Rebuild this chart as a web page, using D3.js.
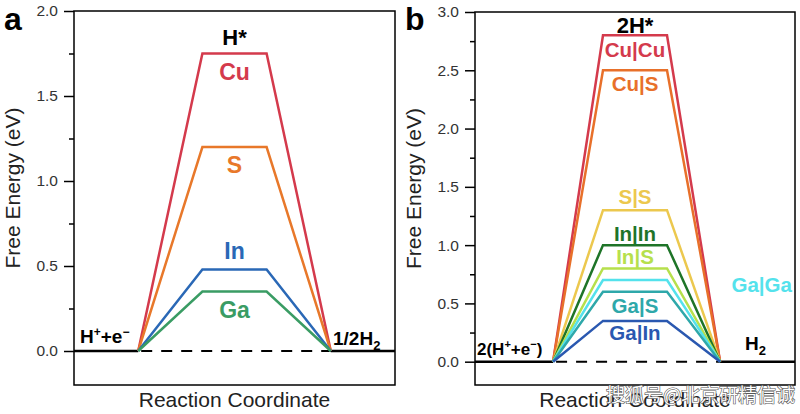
<!DOCTYPE html>
<html><head><meta charset="utf-8">
<script src="https://cdn.jsdelivr.net/npm/d3@7"></script>
<style>body{margin:0;background:#fff}svg{display:block}</style>
</head><body>
<svg id="c" width="800" height="414"></svg>
<script>
// ---------- data ----------
const aStages = [1, 2, 3, 4];
const aSeries = ["Cu", "S", "In", "Ga"];
const aValues = [1.75, 1.2, 0.48, 0.35];
const aTicks = [0, 0.5, 1.0, 1.5, 2.0];
const aMinor = [-0.25, 0.25, 0.75, 1.25, 1.75];

const bStages = [1.22, 2, 3, 3.83];
const bSeries = ["Cu|Cu", "Cu|S", "S|S", "In|In", "In|S", "Ga|Ga", "Ga|S", "Ga|In"];
const bValues = [2.8, 2.5, 1.3, 1.0, 0.8, 0.7, 0.6, 0.35];
const bTicks = [0, 0.5, 1.0, 1.5, 2.0, 2.5, 3.0];
const bMinor = [0.25, 0.75, 1.25, 1.75, 2.25, 2.75];

// ---------- styles ----------
const FONT = "'Liberation Sans', Arial, Helvetica, sans-serif";
const aColors = {"Cu":"#d43a4c","S":"#e8782a","In":"#2a68b6","Ga":"#3a9c64"};
const aLabelDy = {"Cu":26,"S":26,"In":-10,"Ga":26};
const bColors = {"Cu|Cu":"#d43a4c","Cu|S":"#e8702a","S|S":"#ecc84e","In|In":"#1e7428",
  "In|S":"#b6e04c","Ga|Ga":"#54e2ec","Ga|S":"#2ea8aa","Ga|In":"#2a58b0"};
const bLabelDy = {"Cu|Cu":22,"Cu|S":21,"S|S":-6,"In|In":-4,"In|S":-4,"Ga|S":21,"Ga|In":19};

const svg = d3.select("#c");

function panel(o){
  const x = d3.scaleLinear().domain([0,5]).range([o.left,o.right]);
  const y = d3.scaleLinear().domain(o.ydom).range([o.bottom,o.top]);
  const g = svg.append("g");

  g.append("g").attr("transform",`translate(${o.left},0)`)
    .call(d3.axisLeft(y).tickValues(o.minor.filter(v=>v>o.ydom[0]&&v<o.ydom[1])).tickSize(5).tickFormat(""))
    .call(s=>{s.select(".domain").remove(); s.selectAll("line").attr("stroke","#000").attr("stroke-width",1.5);});
  g.append("g").attr("transform",`translate(${o.left},0)`)
    .call(d3.axisLeft(y).tickValues(o.ticks).tickSize(10).tickPadding(6).tickFormat(d3.format(".1f")))
    .call(s=>{s.select(".domain").remove();
      s.selectAll("line").attr("stroke","#000").attr("stroke-width",1.5);
      s.selectAll("text").attr("font-family",FONT).attr("font-size",15.5).attr("fill","#333");});

  g.append("rect").attr("x",o.left).attr("y",o.top).attr("width",o.right-o.left)
    .attr("height",o.bottom-o.top).attr("fill","none").attr("stroke","#000").attr("stroke-width",1.5);

  const s0 = o.stages[0], s3 = o.stages[3];
  g.append("line").attr("x1",x(0)).attr("x2",x(s0)).attr("y1",y(0)).attr("y2",y(0))
    .attr("stroke","#000").attr("stroke-width",2.5);
  g.append("line").attr("x1",x(s3)).attr("x2",x(5)).attr("y1",y(0)).attr("y2",y(0))
    .attr("stroke","#000").attr("stroke-width",2.5);
  g.append("line").attr("x1",x(s0)).attr("x2",x(s3)).attr("y1",y(0)).attr("y2",y(0))
    .attr("stroke","#000").attr("stroke-width",2).attr("stroke-dasharray","11,9").attr("stroke-dashoffset",-3);

  const line = d3.line().x(d=>x(d[0])).y(d=>y(d[1]));
  o.series.forEach((name,i)=>{
    const v = o.values[i];
    const pts = [[o.stages[0],0],[o.stages[1],v],[o.stages[2],v],[o.stages[3],0]];
    g.append("path").attr("d",line(pts)).attr("fill","none")
      .attr("stroke",o.colors[name]).attr("stroke-width",2.5).attr("stroke-linejoin","miter");
  });
  o.series.forEach((name,i)=>{
    const v = o.values[i];
    let lx = x((o.stages[1]+o.stages[2])/2), ly;
    if(o.labelDy[name]!==undefined){ ly = y(v)+o.labelDy[name]; }
    else { lx = x(4.48); ly = y(0.6); }
    g.append("text").attr("x",lx).attr("y",ly).attr("text-anchor","middle")
      .attr("font-family",FONT).attr("font-weight","bold").attr("font-size",o.labelSize)
      .attr("fill",o.colors[name]).text(name);
  });

  g.append("text").attr("transform",`translate(${o.left-54},${(o.top+o.bottom)/2-10}) rotate(-90)`)
    .attr("text-anchor","middle").attr("font-family",FONT).attr("font-size",21).attr("fill","#222")
    .text("Free Energy (eV)");
  g.append("text").attr("x",(o.left+o.right)/2).attr("y",407)
    .attr("text-anchor","middle").attr("font-family",FONT).attr("font-size",21).attr("fill","#222")
    .text("Reaction Coordinate");
  g.append("text").attr("x",o.left-70).attr("y",30).attr("font-family",FONT).attr("font-weight","bold")
    .attr("font-size",32).attr("fill","#000").text(o.letter);
  return {g,x,y};
}

const A = panel({left:74,right:395,top:11,bottom:385,ydom:[-0.2,2.0],ticks:aTicks,minor:aMinor,
  stages:aStages,series:aSeries,values:aValues,colors:aColors,labelDy:aLabelDy,labelSize:23,letter:"a"});
const B = panel({left:475,right:795,top:12,bottom:385,ydom:[-0.2,3.0],ticks:bTicks,minor:bMinor,
  stages:bStages,series:bSeries,values:bValues,colors:bColors,labelDy:bLabelDy,labelSize:20.5,letter:"b"});

function bold(g,x,y,size,anchor){
  return g.append("text").attr("x",x).attr("y",y).attr("text-anchor",anchor||"start")
    .attr("font-family",FONT).attr("font-weight","bold").attr("font-size",size).attr("fill","#000");
}
bold(A.g, A.x(2.5), 45, 22, "middle").text("H*");
{ const t = bold(A.g, 80, 343, 19);
  t.append("tspan").text("H");
  t.append("tspan").attr("dy",-7).attr("font-size",12).text("+");
  t.append("tspan").attr("dy",7).text("+e");
  t.append("tspan").attr("dy",-7).attr("font-size",12).text("−"); }
{ const t = bold(A.g, 333, 345, 19);
  t.append("tspan").text("1/2H");
  t.append("tspan").attr("dy",5).attr("font-size",13).text("2"); }
bold(B.g, B.x(2.5), 33, 22, "middle").text("2H*");
{ const t = bold(B.g, 477, 355, 17);
  t.append("tspan").text("2(H");
  t.append("tspan").attr("dy",-7).attr("font-size",11).text("+");
  t.append("tspan").attr("dy",7).text("+e");
  t.append("tspan").attr("dy",-7).attr("font-size",11).text("−");
  t.append("tspan").attr("dy",7).text(")"); }
{ const t = bold(B.g, 745, 350, 19);
  t.append("tspan").text("H");
  t.append("tspan").attr("dy",5).attr("font-size",13).text("2"); }

svg.append("text").attr("x",795).attr("y",402).attr("text-anchor","end")
  .attr("font-family","'Noto Sans CJK SC', sans-serif").attr("font-size",19)
  .attr("fill","#fff").attr("stroke","#444").attr("stroke-width",1.2).attr("paint-order","stroke")
  .attr("opacity",0.9).text("搜狐号@北京研精信诚");
</script>
</body></html>
